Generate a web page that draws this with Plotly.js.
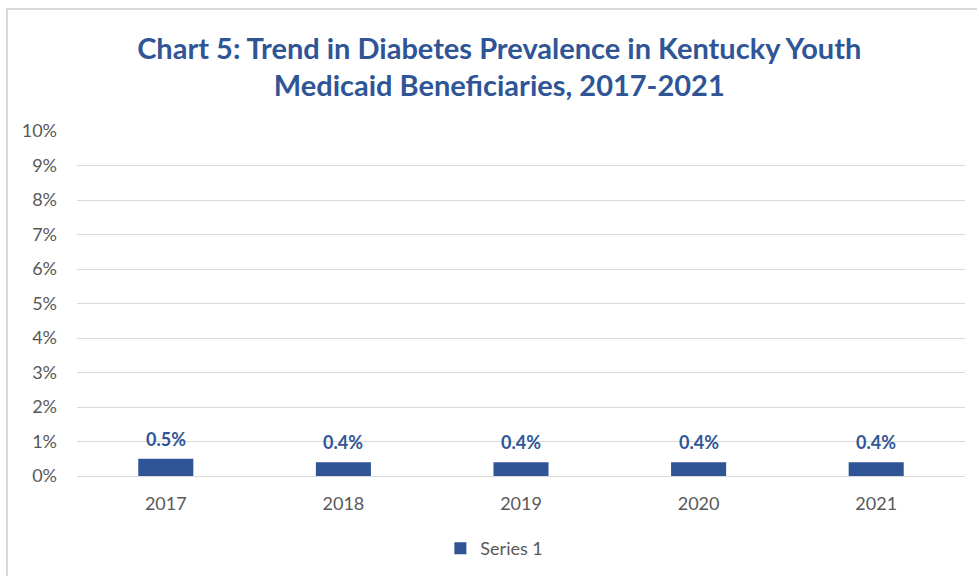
<!DOCTYPE html>
<html>
<head>
<meta charset="utf-8">
<script src="https://cdn.plot.ly/plotly-3.0.1.min.js"></script>
<style>
  html, body { margin: 0; padding: 0; background: #ffffff; }
  #wrap { position: relative; width: 977px; height: 576px; overflow: hidden; }
  #chart { position: absolute; left: 0; top: 0; width: 977px; height: 576px; }
  #frame { position: absolute; left: 6px; top: 8px; width: 990px; height: 600px;
           border: 2px solid #d9d9d9; box-sizing: border-box; pointer-events: none; }
</style>
</head>
<body>
<div id="wrap">
  <div id="chart"></div>
  <div id="frame"></div>
</div>
<script>
// ---- data ----
const years = ["2017", "2018", "2019", "2020", "2021"];
const prevalence = [0.005, 0.004, 0.004, 0.004, 0.004];
const labels = ["0.5%", "0.4%", "0.4%", "0.4%", "0.4%"];
const seriesName = "Series 1";
const yTickVals = [0, 0.01, 0.02, 0.03, 0.04, 0.05, 0.06, 0.07, 0.08, 0.09, 0.10];
const yTickText = ["0%", "1%", "2%", "3%", "4%", "5%", "6%", "7%", "8%", "9%", "10%"];

const blue = "#2F5597";
const grey = "#595959";

const trace = {
  type: "bar",
  x: years,
  y: prevalence,
  name: seriesName,
  marker: { color: blue },
  width: 0.31,
  hoverinfo: "skip",
  showlegend: true
};

// category positions by index so numeric-looking year strings stay categories
const annotations = years.map((yr, i) => ({
  x: i,
  y: prevalence[i],
  xref: "x",
  yref: "y",
  text: labels[i],
  showarrow: false,
  yanchor: "bottom",
  yshift: 7,
  font: { family: "Lato, sans-serif", size: 18, color: blue, weight: "bold" }
}));

const layout = {
  width: 977,
  height: 576,
  paper_bgcolor: "rgba(0,0,0,0)",
  plot_bgcolor: "rgba(0,0,0,0)",
  margin: { l: 77, r: 12, t: 131, b: 100, autoexpand: false },
  title: {
    text: "<b>Chart 5: Trend in Diabetes Prevalence in Kentucky Youth<br>Medicaid Beneficiaries, 2017-2021</b>",
    x: 0.511,
    xanchor: "center",
    y: 0.898,
    yanchor: "middle",
    font: { family: "Lato, sans-serif", size: 29, color: blue }
  },
  xaxis: {
    type: "category",
    categoryorder: "array",
    categoryarray: years,
    automargin: false,
    showgrid: false,
    zeroline: false,
    showline: false,
    ticks: "",
    ticklabelstandoff: 15,
    tickfont: { family: "Lato, sans-serif", size: 18, color: grey }
  },
  yaxis: {
    range: [0, 0.10],
    tickvals: yTickVals,
    ticktext: yTickText,
    automargin: false,
    showgrid: true,
    gridcolor: "#d9d9d9",
    gridwidth: 1,
    zeroline: true,
    zerolinecolor: "#d9d9d9",
    zerolinewidth: 1,
    showline: false,
    ticks: "",
    ticklabelstandoff: 19,
    tickfont: { family: "Lato, sans-serif", size: 18, color: grey }
  },
  showlegend: true,
  legend: {
    orientation: "h",
    x: 0.47,
    xanchor: "center",
    y: -0.21,
    yanchor: "middle",
    itemwidth: 30,
    font: { family: "Lato, sans-serif", size: 18, color: grey },
    bgcolor: "rgba(0,0,0,0)"
  },
  annotations: annotations,
  bargap: 0.69
};

Plotly.newPlot("chart", [trace], layout, { displayModeBar: false, staticPlot: true });
</script>
</body>
</html>
